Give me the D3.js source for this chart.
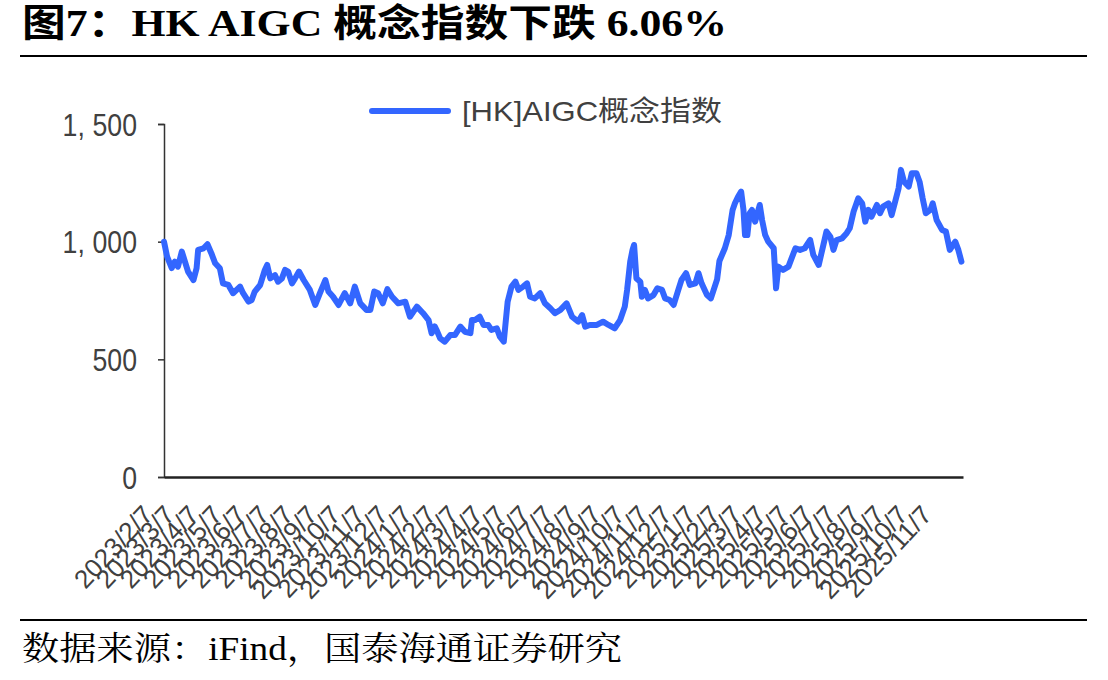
<!DOCTYPE html>
<html>
<head>
<meta charset="utf-8">
<script src="https://cdn.jsdelivr.net/npm/d3@7"></script>
<style>
  html, body { margin: 0; padding: 0; background: #fff; }
  svg { display: block; }
</style>
</head>
<body>
<svg id="chart" width="1108" height="680"></svg>
<script>
const titleText = "图7：HK AIGC 概念指数下跌 6.06%";
const sourceText = "数据来源：iFind，国泰海通证券研究";
const seriesName = "[HK]AIGC概念指数";

const dates = [
"2023-02-07","2023-02-11","2023-02-17","2023-02-21","2023-02-25","2023-03-02","2023-03-06","2023-03-10","2023-03-17","2023-03-21",
"2023-03-23","2023-03-30","2023-04-04","2023-04-09","2023-04-14","2023-04-20","2023-04-24","2023-05-01","2023-05-07","2023-05-16",
"2023-05-20","2023-05-27","2023-05-31","2023-06-04","2023-06-11","2023-06-17","2023-06-20","2023-06-24","2023-06-30","2023-07-04",
"2023-07-09","2023-07-13","2023-07-17","2023-07-22","2023-07-26","2023-07-31","2023-08-06","2023-08-14","2023-08-21","2023-08-27",
"2023-09-03","2023-09-07","2023-09-13","2023-09-20","2023-09-28","2023-10-05","2023-10-11","2023-10-18","2023-10-26","2023-10-31",
"2023-11-05","2023-11-10","2023-11-16","2023-11-22","2023-11-28","2023-12-06","2023-12-15","2023-12-21","2023-12-30","2024-01-07",
"2024-01-14","2024-01-18","2024-01-22","2024-01-25","2024-01-29","2024-02-04","2024-02-11","2024-02-17","2024-02-24","2024-03-01",
"2024-03-08","2024-03-10","2024-03-14","2024-03-20","2024-03-25","2024-03-31","2024-04-04","2024-04-11","2024-04-15","2024-04-20",
"2024-04-25","2024-04-30","2024-05-05","2024-05-09","2024-05-15","2024-05-20","2024-05-24","2024-05-30","2024-06-06","2024-06-12",
"2024-06-19","2024-06-25","2024-07-02","2024-07-10","2024-07-17","2024-07-25","2024-07-30","2024-08-03","2024-08-09","2024-08-18",
"2024-08-26","2024-09-02","2024-09-10","2024-09-17","2024-09-23","2024-09-26","2024-09-30","2024-10-03","2024-10-05","2024-10-08",
"2024-10-13","2024-10-15","2024-10-19","2024-10-23","2024-10-30","2024-11-04","2024-11-10","2024-11-14","2024-11-20","2024-11-25",
"2024-12-01","2024-12-05","2024-12-11","2024-12-16","2024-12-23","2024-12-27","2024-12-31","2025-01-07","2025-01-12","2025-01-20",
"2025-01-23","2025-01-30","2025-02-04","2025-02-09","2025-02-12","2025-02-16","2025-02-20","2025-02-23","2025-02-25","2025-02-28",
"2025-03-03","2025-03-06","2025-03-10","2025-03-16","2025-03-19","2025-03-23","2025-03-27","2025-04-03","2025-04-06","2025-04-09",
"2025-04-15","2025-04-22","2025-04-26","2025-05-01","2025-05-07","2025-05-13","2025-05-20","2025-05-24","2025-05-31","2025-06-06",
"2025-06-10","2025-06-15","2025-06-19","2025-06-23","2025-06-30","2025-07-06","2025-07-10","2025-07-15","2025-07-21","2025-07-26",
"2025-07-30","2025-08-03","2025-08-07","2025-08-14","2025-08-18","2025-08-22","2025-08-29","2025-09-02","2025-09-06","2025-09-11",
"2025-09-14","2025-09-18","2025-09-24","2025-09-28","2025-10-04","2025-10-08","2025-10-12","2025-10-16","2025-10-22","2025-10-25",
"2025-10-30","2025-11-06","2025-11-11","2025-11-16","2025-11-23","2025-11-27","2025-12-01"
];

const values = [
1000,936,888,915,894,958,915,873,837,887,
965,972,989,951,908,887,823,816,781,809,
781,745,752,788,816,880,901,844,858,830,
844,880,873,823,844,873,837,795,731,781,
837,788,766,731,781,738,809,738,710,710,
788,781,738,798,766,738,745,681,724,696,
667,611,640,620,589,575,603,603,639,617,
611,667,667,681,646,646,625,632,596,575,
745,809,830,795,809,823,766,759,781,738,
717,696,710,738,681,660,688,639,646,646,
660,646,632,667,724,795,915,965,986,844,
830,766,795,759,773,802,795,759,752,731,
795,837,866,816,823,866,823,773,759,840,
918,972,1028,1135,1163,1191,1213,1135,1028,1028,
1121,1135,1085,1156,1092,1028,1000,972,802,894,
880,894,929,972,965,972,1007,944,901,986,
1043,1021,965,1007,1014,1036,1057,1128,1184,1163,
1085,1135,1106,1156,1121,1149,1163,1113,1163,1227,
1305,1255,1234,1291,1291,1255,1184,1121,1135,1163,
1092,1050,1043,965,1000,965,915
];

const tickLabels = [
"2023/2/7","2023/3/7","2023/4/7","2023/5/7","2023/6/7","2023/7/7","2023/8/7","2023/9/7","2023/10/7","2023/11/7","2023/12/7",
"2024/1/7","2024/2/7","2024/3/7","2024/4/7","2024/5/7","2024/6/7","2024/7/7","2024/8/7","2024/9/7","2024/10/7","2024/11/7","2024/12/7",
"2025/1/7","2025/2/7","2025/3/7","2025/4/7","2025/5/7","2025/6/7","2025/7/7","2025/8/7","2025/9/7","2025/10/7","2025/11/7"
];
const yTicks = [0, 500, 1000, 1500];
const xDomain = ["2023-02-07", "2025-12-03"];

const parseISO = d3.timeParse("%Y-%m-%d");
const parseLabel = s => { const p = s.split("/").map(Number); return new Date(p[0], p[1] - 1, p[2]); };

const data = dates.map((d, i) => ({ date: parseISO(d), value: values[i] }));

const svg = d3.select("#chart");
const plot = { left: 164, right: 963, top: 124, bottom: 477 };

const sans = "'Liberation Sans','Arial','Noto Sans CJK SC',sans-serif";

const x = d3.scaleTime().domain(xDomain.map(parseISO)).range([plot.left, plot.right]);
const y = d3.scaleLinear().domain([0, 1500]).range([plot.bottom, plot.top]);

// Title
svg.append("text")
  .attr("x", 22).attr("y", 36)
  .attr("font-family", "'Liberation Serif','Noto Sans CJK SC',serif")
  .attr("font-weight", "bold")
  .attr("font-size", 38)
  .attr("fill", "#000")
  .attr("textLength", 705).attr("lengthAdjust", "spacingAndGlyphs")
  .text(titleText);

svg.append("line").attr("x1", 20).attr("x2", 1087).attr("y1", 56).attr("y2", 56)
  .attr("stroke", "#000").attr("stroke-width", 2);

// Y axis
const sx = 0.86;
const yAxis = d3.axisLeft(y).tickValues(yTicks).tickSize(6).tickPadding(0)
  .tickFormat(d3.format(","));
const gy = svg.append("g").attr("transform", `translate(${plot.left},0)`).call(yAxis);
gy.select(".domain").attr("stroke", "#333").attr("stroke-width", 1.5);
gy.selectAll(".tick line").attr("stroke", "#333").attr("stroke-width", 1.5);
gy.selectAll(".tick text")
  .attr("font-family", sans).attr("font-size", 31).attr("fill", "#404040")
  .attr("text-anchor", "end")
  .attr("x", -27 / sx).attr("dy", "0.36em")
  .attr("transform", `scale(${sx},1)`)
  .each(function (d) {
    const s = d3.format(",")(d);
    const el = d3.select(this);
    if (s.includes(",")) {
      const parts = s.split(",");
      el.text(null);
      el.append("tspan").text(parts[0] + ",");
      el.append("tspan").attr("dx", 9).text(parts[1]);
    }
  });

// X axis
const xAxis = d3.axisBottom(x).tickValues(tickLabels.map(parseLabel)).tickSize(0)
  .tickFormat((d, i) => tickLabels[i]);
const gx = svg.append("g").attr("transform", `translate(0,${plot.bottom})`).call(xAxis);
gx.select(".domain").attr("stroke", "#222").attr("stroke-width", 2.5);
gx.selectAll(".tick text")
  .attr("font-family", sans).attr("font-size", 26).attr("fill", "#404040")
  .attr("text-anchor", "end")
  .attr("y", 0).attr("dy", 0)
  .attr("transform", "translate(-10,39) rotate(-47)");

// Line
svg.append("path")
  .datum(data)
  .attr("fill", "none")
  .attr("stroke", "#3366ff")
  .attr("stroke-width", 6)
  .attr("stroke-linejoin", "round")
  .attr("stroke-linecap", "round")
  .attr("d", d3.line().x(d => x(d.date)).y(d => y(d.value)));

// Legend
svg.append("line").attr("x1", 372).attr("x2", 448).attr("y1", 111).attr("y2", 111)
  .attr("stroke", "#3366ff").attr("stroke-width", 6).attr("stroke-linecap", "round");
svg.append("text").attr("x", 462).attr("y", 121)
  .attr("font-family", sans).attr("font-size", 28).attr("fill", "#404040")
  .attr("textLength", 260).attr("lengthAdjust", "spacingAndGlyphs")
  .text(seriesName);

// Bottom rule and source
svg.append("line").attr("x1", 20).attr("x2", 1087).attr("y1", 620).attr("y2", 620)
  .attr("stroke", "#000").attr("stroke-width", 2);
svg.append("text").attr("x", 22).attr("y", 660)
  .attr("font-family", "'Liberation Serif','Noto Serif CJK SC','Noto Sans CJK SC',serif")
  .attr("font-size", 33).attr("fill", "#000")
  .attr("textLength", 600).attr("lengthAdjust", "spacingAndGlyphs")
  .text(sourceText);
</script>
</body>
</html>
